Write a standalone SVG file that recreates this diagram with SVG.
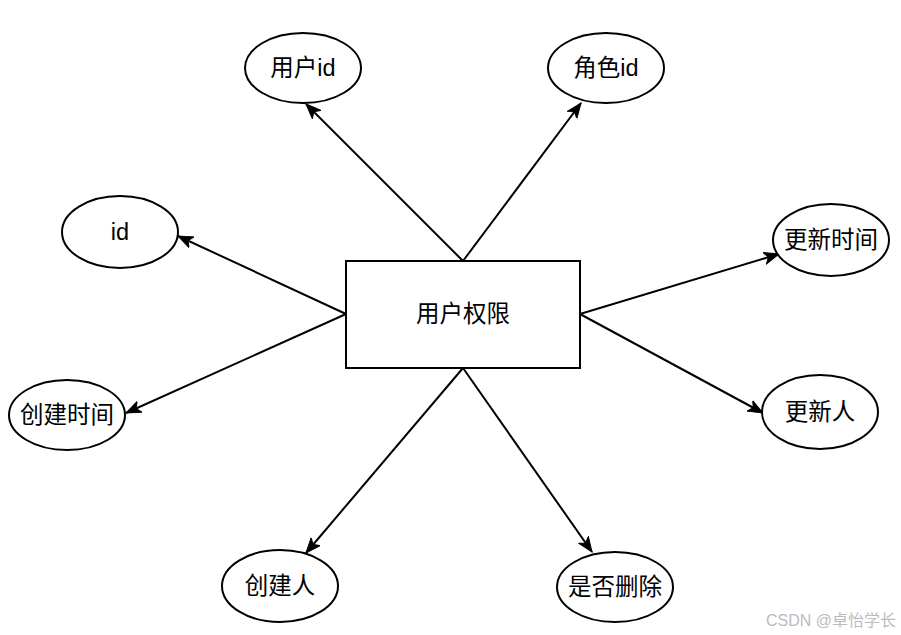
<svg xmlns="http://www.w3.org/2000/svg" width="901" height="635" viewBox="0 0 901 635">
<defs>
<marker id="ah" markerWidth="16" markerHeight="16" refX="15" refY="8" orient="auto" markerUnits="userSpaceOnUse" viewBox="0 0 16 16">
<path d="M0,2 L15,8 L0,14 L4,8 Z" fill="#000" stroke="#000" stroke-width="1"/>
</marker>
<style>
.n{fill:#fff;stroke:#000;stroke-width:2}
.t{font-family:"Liberation Sans","Noto Sans CJK SC",sans-serif;font-size:23.5px;fill:#000;text-anchor:middle;dominant-baseline:central}
.c{stroke:#000;stroke-width:2;fill:none;marker-end:url(#ah)}
</style>
</defs>
<rect width="901" height="635" fill="#fff"/>
<g id="connectors">
<line class="c" x1="463" y1="261" x2="306" y2="104"/>
<line class="c" x1="463" y1="261" x2="581" y2="103"/>
<line class="c" x1="346" y1="314" x2="178" y2="236"/>
<line class="c" x1="346" y1="314" x2="126" y2="413"/>
<line class="c" x1="580" y1="314" x2="779" y2="254"/>
<line class="c" x1="580" y1="314" x2="763" y2="413"/>
<line class="c" x1="463" y1="368" x2="306" y2="553"/>
<line class="c" x1="463" y1="368" x2="592" y2="552"/>
</g>
<g id="center"><rect class="n" x="346" y="261" width="234" height="107"/><text class="t" x="463" y="314">用户权限</text></g>
<g id="userid"><ellipse class="n" cx="303" cy="68" rx="58" ry="35"/><text class="t" x="303" y="68">用户id</text></g>
<g id="roleid"><ellipse class="n" cx="606" cy="68" rx="58" ry="35"/><text class="t" x="606" y="68">角色id</text></g>
<g id="id"><ellipse class="n" cx="120" cy="232" rx="58" ry="36"/><text class="t" x="120" y="232">id</text></g>
<g id="updatetime"><ellipse class="n" cx="831" cy="240" rx="58" ry="36"/><text class="t" x="831" y="240">更新时间</text></g>
<g id="createtime"><ellipse class="n" cx="67" cy="415" rx="58" ry="35"/><text class="t" x="67" y="415">创建时间</text></g>
<g id="updater"><ellipse class="n" cx="820" cy="412" rx="58" ry="37"/><text class="t" x="820" y="412">更新人</text></g>
<g id="creator"><ellipse class="n" cx="280" cy="586" rx="58" ry="36"/><text class="t" x="280" y="586">创建人</text></g>
<g id="deleted"><ellipse class="n" cx="615" cy="587" rx="58" ry="35"/><text class="t" x="615" y="587">是否删除</text></g>
<text x="896" y="620" font-family="'Liberation Sans','Noto Sans CJK SC',sans-serif" font-size="16" fill="#bbb" text-anchor="end" dominant-baseline="central">CSDN @卓怡学长</text>
</svg>
